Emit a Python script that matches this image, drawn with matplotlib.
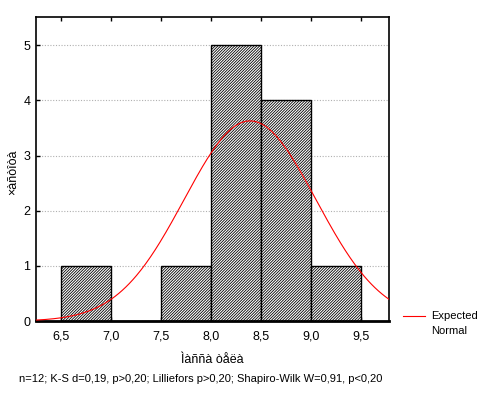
import numpy as np
import matplotlib
matplotlib.use('Agg')
import matplotlib.pyplot as plt

plt.rcParams['font.family'] = ['Liberation Sans', 'DejaVu Sans']
plt.rcParams['hatch.linewidth'] = 0.6

# Datos del histograma
bordes = [6.5, 7.0, 7.5, 8.0, 8.5, 9.0, 9.5]
frecuencias = [1, 0, 1, 5, 4, 1]
n = 12
media = 8.39
desv = 0.66

etiquetas_x = ['6,5', '7,0', '7,5', '8,0', '8,5', '9,0', '9,5']
etiquetas_y = ['0', '1', '2', '3', '4', '5']

fig = plt.figure(figsize=(4.79, 3.94), dpi=100)
ax = fig.add_axes([0.0752, 0.185, 0.737, 0.772])

ancho = bordes[1] - bordes[0]
ax.bar(bordes[:-1], frecuencias, width=ancho, align='edge', color='white',
       edgecolor='black', linewidth=1.0, hatch='/' * 12, zorder=2)

# Curva normal esperada
xs = np.linspace(6.25, 9.78, 300)
ys = n * ancho * np.exp(-0.5 * ((xs - media) / desv) ** 2) / (desv * np.sqrt(2 * np.pi))
ax.plot(xs, ys, color='red', linewidth=0.8, zorder=3, label='Expected\nNormal')

ax.set_xlim(6.25, 9.78)
ax.set_ylim(0, 5.51)
ax.set_xticks(bordes)
ax.set_xticklabels(etiquetas_x, fontsize=9)
ax.set_yticks(range(6))
ax.set_yticklabels(etiquetas_y, fontsize=9)
ax.tick_params(axis='y', direction='in', length=3, width=1, pad=4)
ax.tick_params(axis='x', top=True, direction='in', length=3, width=1, pad=7)
ax.yaxis.grid(True, color='#b0b0b0', linestyle=(0, (1, 1.5)), linewidth=0.8, zorder=1)
ax.set_axisbelow(True)
for s in ax.spines.values():
    s.set_linewidth(1.2)
ax.spines['bottom'].set_linewidth(2)

ax.set_xlabel('Ìàññà òåëà', fontsize=9, labelpad=8)
fig.text(0.028, 0.563, '×àñòîòà', fontsize=9, rotation=90, ha='center', va='center')

fig.text(0.42, 0.038, 'n=12; K-S d=0,19, p>0,20; Lilliefors p>0,20; Shapiro-Wilk W=0,91, p<0,20',
         fontsize=8, ha='center', va='center')

leg = ax.legend(loc='upper left', bbox_to_anchor=(1.01, 0.067), frameon=False, fontsize=8,
                handlelength=2.0, handletextpad=0.6, borderaxespad=0.5)
for t in leg.get_texts():
    t.set_linespacing(1.6)
# la linea de la leyenda alineada con la primera linea del texto
linea = leg.get_lines()[0]
linea.set_ydata(np.asarray(linea.get_ydata()) + 5)

fig.savefig('out.png', dpi=100)
